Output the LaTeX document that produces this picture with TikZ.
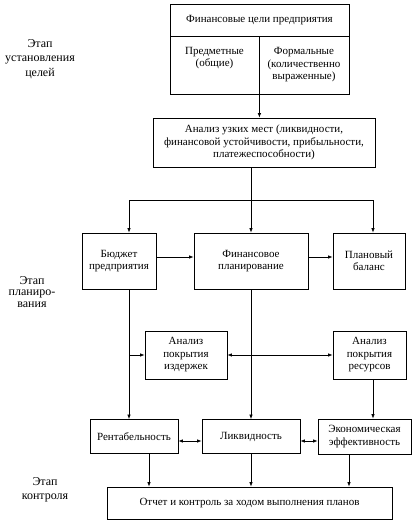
\documentclass[tikz,border=0pt]{standalone}
\usepackage{fontspec}
\setmainfont{Liberation Serif}
\usetikzlibrary{arrows.meta}
\tikzset{
  box/.style={draw, line width=0.8pt, align=center, inner sep=1pt, font=\fontsize{11}{12.5}\selectfont},
  stage/.style={align=center, font=\fontsize{12}{14.5}\selectfont},
  link/.style={line width=0.7pt},
  >={Latex[length=4.5pt,width=3.5pt]}
}
\begin{document}
\begin{tikzpicture}[x=1pt, y=-1pt]
  \useasboundingbox (0,0) rectangle (419,527);
  % цели
  \node[box, minimum width=179pt, minimum height=32pt] (goals) at (259.5,20) {Финансовые цели предприятия};
  \node[box, minimum width=89pt, minimum height=58pt] (subj) at (214.5,65) {Предметные\\(общие)\\[4pt]};
  \node[box, minimum width=90pt, minimum height=58pt] (form) at (304,65) {Формальные\\(количественно\\выраженные)};
  \node[box, minimum width=222pt, minimum height=49pt] (an) at (264,142.5)
    {Анализ узких мест (ликвидности,\\финансовой устойчивости, прибыльности,\\платежеспособности)};
  % планирование
  \node[box, minimum width=74pt, minimum height=56pt] (bud) at (119,261) {Бюджет\\предприятия};
  \node[box, minimum width=114pt, minimum height=56pt] (fin) at (251,261) {Финансовое\\планирование};
  \node[box, minimum width=72pt, minimum height=56pt] (bal) at (369,261) {Плановый\\баланс};
  \node[box, minimum width=82pt, minimum height=48pt] (cost) at (186,355) {Анализ\\покрытия\\издержек};
  \node[box, minimum width=73pt, minimum height=48pt] (res) at (369.5,355) {Анализ\\покрытия\\ресурсов};
  % контроль
  \node[box, minimum width=88pt, minimum height=34pt] (rent) at (134,436.5) {Рентабельность};
  \node[box, minimum width=98pt, minimum height=34pt] (liq) at (251,436.5) {Ликвидность};
  \node[box, minimum width=93pt, minimum height=35pt] (econ) at (364.5,436.5) {Экономическая\\эффективность};
  \node[box, minimum width=285pt, minimum height=32pt] (rep) at (249.5,503) {Отчет и контроль за ходом выполнения планов};
  % этапы
  \node[stage] (st1) at (40,59) {Этап\\установления\\целей};
  \node[stage, font=\fontsize{12}{11.5}\selectfont] (st2) at (32,292) {Этап\\планиро-\\вания};
  \node[stage] (st3) at (45,490) {Этап\\контроля};
  % опорные точки
  \coordinate (fork) at (251,200);
  \coordinate (lbus) at (129,200);
  \coordinate (rbus) at (373,200);
  \coordinate (r2) at (0,257);
  \coordinate (r3) at (0,441);
  \coordinate (c1) at (149,0);
  \coordinate (c3) at (349,0);
  % связи
  \draw[link, ->] (subj.south east) -- (subj.south east |- an.north);
  \draw[link] (fork |- an.south) -- (fork);
  \draw[link] (lbus) -- (rbus);
  \draw[link, ->] (lbus) -- (lbus |- bud.north);
  \draw[link, ->] (fork) -- (fin.north);
  \draw[link, ->] (rbus) -- (rbus |- bal.north);
  \draw[link, ->] (bud.east |- r2) -- (fin.west |- r2);
  \draw[link, ->] (fin.east |- r2) -- (bal.west |- r2);
  \draw[link, ->] (lbus |- bud.south) -- (lbus |- rent.north);
  \draw[link, ->] (lbus |- cost.west) -- (cost.west);
  \draw[link, <->] (cost.east) -- (res.west);
  \draw[link, ->] (fin.south) -- (liq.north);
  \draw[link, ->] (rbus |- res.south) -- (rbus |- econ.north);
  \draw[link, <->] (rent.east |- r3) -- (liq.west |- r3);
  \draw[link, <->] (liq.east |- r3) -- (econ.west |- r3);
  \draw[link, ->] (c1 |- rent.south) -- (c1 |- rep.north);
  \draw[link, ->] (liq.south) -- (liq.south |- rep.north);
  \draw[link, ->] (c3 |- econ.south) -- (c3 |- rep.north);
\end{tikzpicture}
\end{document}
